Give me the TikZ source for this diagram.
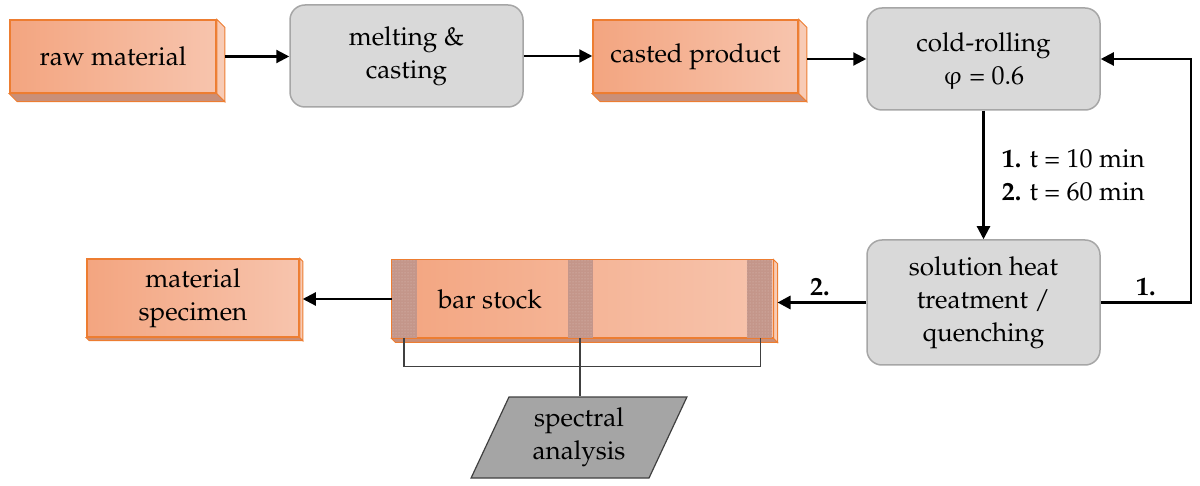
\documentclass[tikz,border=0pt]{standalone}
\usepackage[T1]{fontenc}
\usepackage{mathpazo}
\usepackage{upgreek}
\usetikzlibrary{arrows.meta,shapes.geometric,patterns,positioning}
\definecolor{pfOrange}{HTML}{ED7D31}
\definecolor{pfLeft}{HTML}{F3A580}
\definecolor{pfRight}{HTML}{F7C4AD}
\definecolor{pfSide}{HTML}{F8CBB5}
\definecolor{pfBottom}{HTML}{C98F78}
\definecolor{pfPatch}{HTML}{C4968A}
\definecolor{pfGray}{HTML}{D9D9D9}
\definecolor{pfGrayLine}{HTML}{A6A6A6}
\definecolor{pfDark}{HTML}{A5A5A5}
\definecolor{pfDarkLine}{HTML}{404040}
\begin{document}
\begin{tikzpicture}[
    x=1pt, y=-1pt,
    every node/.style={font=\fontsize{26}{33}\selectfont, align=center},
    pfStock/.style={draw=pfOrange, line width=1.5pt, left color=pfLeft, right color=pfRight, inner sep=0pt},
    pfStep/.style={rectangle, rounded corners=15pt, draw=pfGrayLine, line width=1.5pt, fill=pfGray, minimum width=233pt, minimum height=102pt, inner sep=0pt},
    pfData/.style={trapezium, trapezium left angle=67, trapezium right angle=113, trapezium stretches=true, draw=pfDarkLine, line width=1.2pt, fill=pfDark, minimum width=216pt, minimum height=81pt, inner sep=0pt},
    pfArrow/.style={line width=2.2pt, -{Triangle[length=13pt,width=13pt]}},
    pfBracket/.style={line width=1.3pt, draw=black!75}
]
\useasboundingbox (0,0) rectangle (1200,486);

\node[pfStock, minimum width=206pt, minimum height=73pt] (raw) at (113,56.5) {raw material};
\node[pfStep] (melt) at (406.5,56) {melting \&\\casting};
\node[pfStock, minimum width=205pt, minimum height=73pt] (cast) at (695.5,56.5) {casted product};
\node[pfStep] (roll) at (983.5,59) {cold-rolling\\$\upvarphi$ = 0.6};
\node[pfStep, minimum height=125pt] (heat) at (983.5,302.5) {solution heat\\treatment /\\quenching};
\node[pfStock, minimum width=381pt, minimum height=78pt, line width=1pt] (bar) at (582.5,299) {};
\node[pfStock, minimum width=212pt, minimum height=78pt] (spec) at (193,298) {material\\specimen};
\node[pfData] (ana) at (579,437.5) {spectral\\analysis};

\foreach \n/\d in {raw/8,cast/8,spec/3,bar/4}{
  \filldraw[draw=pfOrange, fill=pfSide, line width=1pt] (\n.north east) -- ++(\d,\d) -- ([shift={(\d,\d)}]\n.south east) -- (\n.south east) -- cycle;
  \filldraw[draw=pfOrange, fill=pfBottom, line width=1pt] (\n.south west) -- (\n.south east) -- ++(\d,\d) -- ([shift={(\d,\d)}]\n.south west) -- cycle;
}
\foreach \a in {0,176,355}{
  \fill[pfPatch] ([xshift=\a]bar.north west) rectangle ([xshift=\a+25]bar.south west);
  \fill[pattern=dots, pattern color=pfPatch!60!white] ([xshift=\a]bar.north west) rectangle ([xshift=\a+25]bar.south west);
}
\draw[pfOrange, line width=1pt] (bar.north west) rectangle (bar.south east);
\node (barname) at (490,299) {bar stock};

\draw[pfArrow] (raw.east) ++(8,0) -- (raw.east -| melt.west);
\draw[pfArrow] (melt.east) -- (melt.east -| cast.west);
\draw[pfArrow] (roll.west -| cast.east) ++(8,0) -- (roll.west);
\draw[pfArrow] (roll.south) -- (heat.north)
    node[midway, right=14pt, align=left] (times) {\textbf{1.} t = 10 min\\\textbf{2.} t = 60 min};
\draw[pfArrow] (heat.east) -- ++(90,0) node[midway, above=2pt] (first) {\textbf{1.}} |- (roll.east);
\draw[pfArrow, line width=3pt, shorten >=4pt] (heat.west) -- (heat.west -| bar.east)
    node[midway, above=2pt] (second) {\textbf{2.}};
\draw[pfArrow, shorten >=3pt] (bar.west) -- (bar.west -| spec.east);

\coordinate (pl) at ([xshift=12.5]bar.south west);
\coordinate (pm) at ([xshift=188.5]bar.south west);
\coordinate (pr) at ([xshift=-13]bar.south east);
\draw[pfBracket] (pl) -- ++(0,28) -| (pr);
\draw[pfBracket] (pm) -- (pm |- ana.north);
\end{tikzpicture}
\end{document}
